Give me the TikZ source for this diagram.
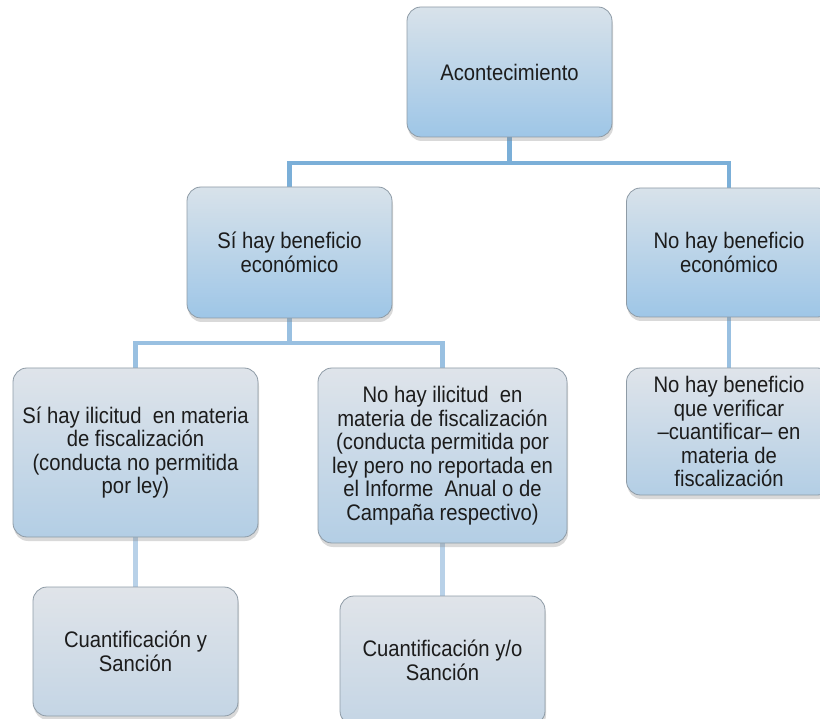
\documentclass[tikz,border=0pt]{standalone}
\usepackage{fontspec}
\setmainfont{Liberation Sans}[FakeStretch=0.9]
\usetikzlibrary{shadows,backgrounds}
\definecolor{lineA}{HTML}{7BAFD8}
\definecolor{lineB}{HTML}{99C0E1}
\definecolor{lineC}{HTML}{B8D1E8}
\definecolor{topA}{HTML}{D8E2EA}
\definecolor{botA}{HTML}{9EC6E7}
\definecolor{topB}{HTML}{DFE4EA}
\definecolor{botB}{HTML}{B3CEE5}
\definecolor{topC}{HTML}{E0E4E9}
\definecolor{botC}{HTML}{C4D5E5}
\definecolor{edge}{HTML}{8E9BA6}
\definecolor{txt}{HTML}{1C1C1C}
\begin{document}
\begin{tikzpicture}[x=1pt,y=-1pt,
  box/.style={draw=edge, line width=0.8pt, rounded corners=14pt, align=center,
    text=txt, font=\fontsize{22.5}{23.5}\selectfont, inner sep=0pt,
    drop shadow={opacity=0.3, shadow xshift=1pt, shadow yshift=-4pt}},
  lvlA/.style={box, top color=topA, bottom color=botA},
  lvlB/.style={box, top color=topB, bottom color=botB},
  lvlC/.style={box, top color=topC, bottom color=botC},
  conn/.style={line width=4.5pt}]
\useasboundingbox (0,0) rectangle (820,719);
\clip (0,0) rectangle (820,719);

\node[lvlA, minimum width=205pt, minimum height=130pt] (A) at (509.5,72) {Acontecimiento};
\node[lvlA, minimum width=205pt, minimum height=131pt] (B1) at (289.5,252.5) {Sí hay beneficio\\económico};
\node[lvlA, minimum width=205pt, minimum height=129pt] (B2) at (729,252.5) {No hay beneficio\\económico};
\node[lvlB, minimum width=245pt, minimum height=169pt] (C1) at (135.5,452.5) {Sí hay ilicitud\ \ en materia\\de fiscalización\\(conducta no permitida\\por ley)};
\node[lvlB, minimum width=249pt, minimum height=175pt] (C2) at (442.5,455.5) {No hay ilicitud\ \ en\\materia de fiscalización\\(conducta permitida por\\ley pero no reportada en\\el Informe\ \ Anual o de\\Campaña respectivo)};
\node[lvlB, minimum width=205pt, minimum height=127pt] (C3) at (729,431.5) {No hay beneficio\\que verificar\\–cuantificar– en\\materia de\\fiscalización};
\node[lvlC, minimum width=205pt, minimum height=129pt] (D1) at (135.5,651.5) {Cuantificación y\\Sanción};
\node[lvlC, minimum width=205pt, minimum height=129pt] (D2) at (442.5,660.5) {Cuantificación y/o\\Sanción};

\begin{scope}[on background layer]
  \draw[conn, lineA] (A.south) -- (A.south |- 0,163) -| (B1.north);
  \draw[conn, lineA] (A.south |- 0,163) -| (B2.north);
  \draw[conn, lineB] (B1.south) -- (B1.south |- 0,343) -| (C1.north);
  \draw[conn, lineB] (B1.south |- 0,343) -| (C2.north);
  \draw[conn, lineB] (B2.south) -- (C3.north);
  \draw[conn, lineC] (C1.south) -- (D1.north);
  \draw[conn, lineC] (C2.south) -- (D2.north);
\end{scope}
\end{tikzpicture}
\end{document}
